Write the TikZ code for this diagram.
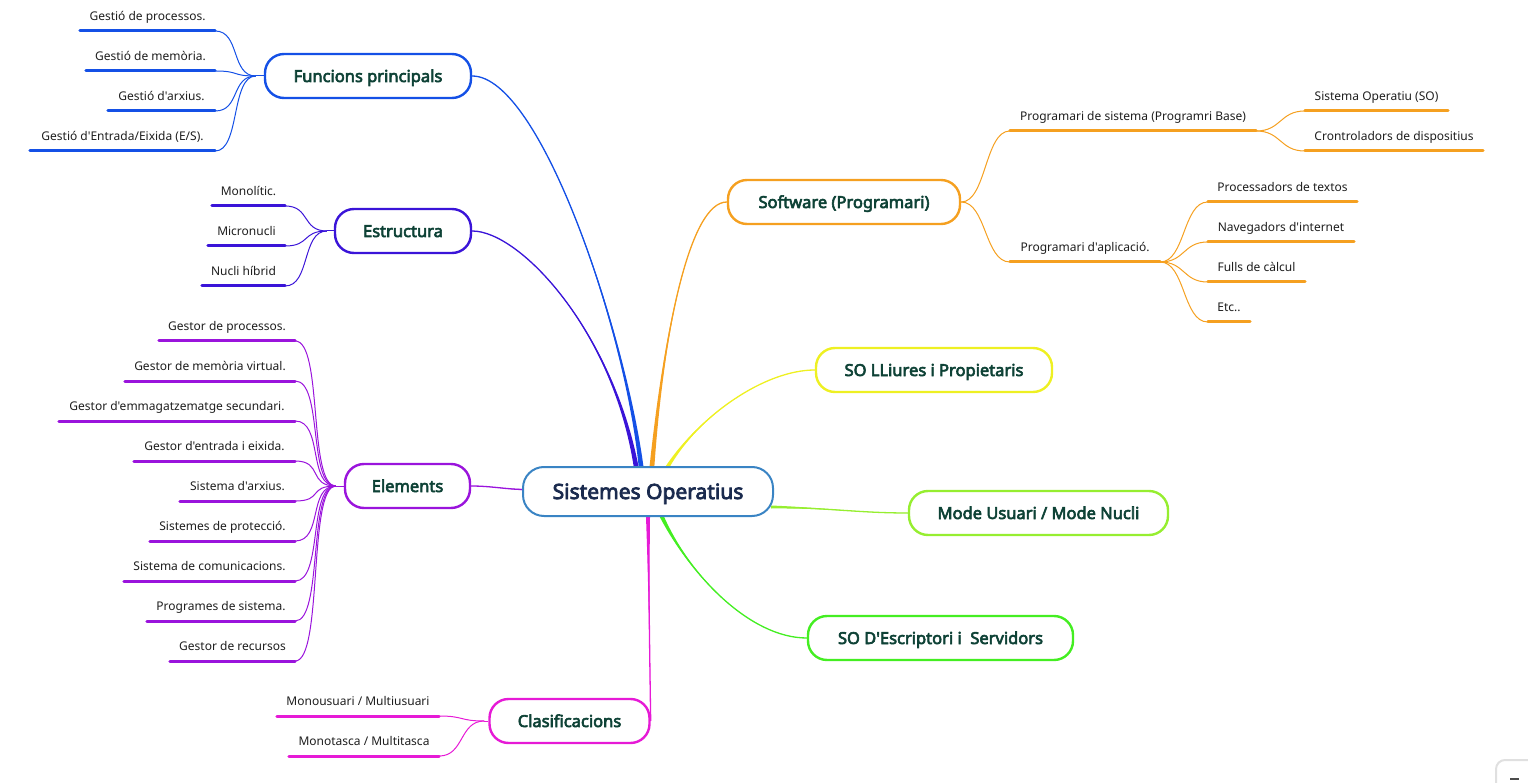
\documentclass[tikz,border=0pt]{standalone}
\usepackage{fontspec}
\setmainfont{Noto Sans}[Ligatures=TeXOff, AutoFakeBold=3.6]
\usetikzlibrary{calc}
\definecolor{cBlue}{HTML}{1450E6}
\definecolor{cInd}{HTML}{3A14D8}
\definecolor{cPur}{HTML}{9A14DC}
\definecolor{cMag}{HTML}{E61AD6}
\definecolor{cOra}{HTML}{F5A020}
\definecolor{cYel}{HTML}{EEF022}
\definecolor{cLim}{HTML}{96EE30}
\definecolor{cGrn}{HTML}{44EE22}
\definecolor{cCen}{HTML}{3A84C4}
\definecolor{cCenT}{HTML}{1A2A4E}
\definecolor{cTopT}{HTML}{0E4236}
\definecolor{cSubT}{HTML}{1E1E1E}
\pgfdeclarelayer{bg}
\pgfsetlayers{bg,main}
\newcommand\tapr[6]{%
  \fill[#1] ($#2+#6$) .. controls #3 and #4 .. #5 .. controls #4 and #3 .. ($#2-#6$) -- cycle;
  \draw[#1,line width=1.3pt] #2 .. controls #3 and #4 .. #5;}
\newcommand\subn[6]{%
  \node[sub, minimum width=#4pt] (#1) at (#2,#3) {#6};
  \draw[ul=#5] (#1.south west) -- (#1.south east);}
\begin{document}
\begin{tikzpicture}[x=1pt,y=-1pt,
  topic/.style={draw=#1, line width=2.4pt, rounded corners=19pt, fill=white,
    minimum height=44pt, inner sep=0pt, text height=12pt, text depth=0pt,
    font=\fontsize{16.5}{19}\selectfont\bfseries, text=cTopT},
  central/.style={draw=cCen, line width=2pt, rounded corners=21pt, fill=white,
    minimum height=49pt, minimum width=250pt, inner sep=0pt,
    text height=15pt, text depth=0pt,
    font=\fontsize{21}{24}\selectfont\bfseries, text=cCenT},
  sub/.style={anchor=south, inner sep=0pt, text height=9pt, text depth=10pt,
    font=\fontsize{12}{14}\selectfont, text=cSubT},
  ul/.style={draw=#1, line width=3pt, line cap=round},
  twig/.style={draw=#1, line width=1pt},
  bz/.style={to path={.. controls +(#1,0) and +(-#1,0) .. (\tikztotarget)}},
]
\useasboundingbox (0,0) rectangle (1528,783);

% central and main topics
\node[central] (so) at (648,491.5) {Sistemes Operatius};
\node[topic=cBlue, minimum width=206pt] (fp) at (368,76) {Funcions principals};
\node[topic=cInd, minimum width=136pt] (es) at (403,231) {Estructura};
\node[topic=cPur, minimum width=125pt] (el) at (407.5,486) {Elements};
\node[topic=cMag, minimum width=160pt] (cl) at (569.5,721) {Clasificacions};
\node[topic=cOra, minimum width=232pt] (sw) at (844,202) {Software (Programari)};
\node[topic=cYel, minimum width=236pt] (ll) at (934,370) {SO LLiures i Propietaris};
\node[topic=cLim, minimum width=259pt] (mu) at (1038.5,513) {Mode Usuari / Mode Nucli};
\node[topic=cGrn, minimum width=265pt] (de) at (940.5,638) {SO D'Escriptori i\ \ Servidors};

% Funcions principals
\subn{f1}{147.5}{31}{135}{cBlue}{Gestió de processos.}
\subn{f2}{150.5}{71}{129}{cBlue}{Gestió de memòria.}
\subn{f3}{161.5}{111}{107}{cBlue}{Gestió d'arxius.}
\subn{f4}{122.5}{151}{185}{cBlue}{Gestió d'Entrada/Eixida (E/S).}
% Estructura
\subn{e1}{248.5}{206}{73}{cInd}{Monolític.}
\subn{e2}{246.5}{246}{77}{cInd}{Micronucli}
\subn{e3}{243.5}{286}{83}{cInd}{Nucli híbrid}
% Elements
\subn{m1}{227}{341}{136}{cPur}{Gestor de processos.}
\subn{m2}{210}{381}{170}{cPur}{Gestor de memòria virtual.}
\subn{m3}{177}{421}{236}{cPur}{Gestor d'emmagatzematge secundari.}
\subn{m4}{214.5}{461}{161}{cPur}{Gestor d'entrada i eixida.}
\subn{m5}{237.5}{501}{115}{cPur}{Sistema d'arxius.}
\subn{m6}{222.5}{541}{145}{cPur}{Sistemes de protecció.}
\subn{m7}{209.5}{581}{171}{cPur}{Sistema de comunicacions.}
\subn{m8}{221}{621}{148}{cPur}{Programes de sistema.}
\subn{m9}{232.5}{661}{125}{cPur}{Gestor de recursos}
% Clasificacions
\subn{c1}{358}{716}{162}{cMag}{Monousuari / Multiusuari}
\subn{c2}{364}{756}{150}{cMag}{Monotasca / Multitasca}
% Software
\subn{ps}{1133}{131}{246}{cOra}{Programari de sistema (Programri Base)}
\subn{pa}{1085}{262}{150}{cOra}{Programari d'aplicació.}
\subn{sop}{1376.5}{111}{143}{cOra}{Sistema Operatiu (SO)}
\subn{cd}{1394}{151}{178}{cOra}{Crontroladors de dispositius}
\subn{pt}{1282.5}{202}{149}{cOra}{Processadors de textos}
\subn{ni}{1281}{242}{146}{cOra}{Navegadors d'internet}
\subn{fc}{1256.5}{282}{97}{cOra}{Fulls de càlcul}
\subn{etc}{1229}{322}{42}{cOra}{Etc..}

\begin{pgfonlayer}{bg}
  % junction points
  \coordinate (fj) at ($(fp.west)+(-8,0)$);
  \coordinate (ej) at ($(es.west)+(-7,0)$);
  \coordinate (mj) at ($(el.west)+(-8,0)$);
  \coordinate (cj) at ($(cl.west)+(-4,0)$);
  \foreach \n in {f1,f2,f3,f4} \draw[twig=cBlue] (\n.south east) to[bz=25] (fj);
  \draw[twig=cBlue] (fj) -- (fp.west);
  \foreach \n in {e1,e2,e3} \draw[twig=cInd] (\n.south east) to[bz=25] (ej);
  \draw[twig=cInd] (ej) -- (es.west);
  \foreach \n in {m1,m2,m3,m4,m5,m6,m7,m8,m9} \draw[twig=cPur] (\n.south east) to[bz=28] (mj);
  \draw[twig=cPur] (mj) -- (el.west);
  \foreach \n in {c1,c2} \draw[twig=cMag] (\n.south east) to[bz=25] (cj);
  \draw[twig=cMag] (cj) -- (cl.west);
  % software branches
  \foreach \n in {ps,pa} \draw[twig=cOra] (sw.east) to[bz=25] (\n.south west);
  \foreach \n in {sop,cd} \draw[twig=cOra] (ps.south east) to[bz=25] (\n.south west);
  \foreach \n in {pt,ni,fc,etc} \draw[twig=cOra] (pa.south east) to[bz=25] (\n.south west);
  % central connectors
  \coordinate (sF) at ($(so.north)+(-7,0)$);
  \coordinate (sE) at ($(so.north)+(-12,0)$);
  \coordinate (sS) at ($(so.north)+(4,0)$);
  \coordinate (sL) at ($(so.north)+(20,0)$);
  \coordinate (sM) at ($(so.east)+(-3,15.5)$);
  \coordinate (sD) at ($(so.south)+(14,0)$);
  \coordinate (sC) at ($(so.south)+(0,0)$);
  \coordinate (sEl) at ($(so.west)+(0,-2)$);
  \tapr{cBlue}{(sF)}{(625,330)}{(540,76)}{(fp.east)}{(2.4,0)}
  \tapr{cInd}{(sE)}{(612,330)}{(520,231)}{(es.east)}{(2.4,0)}
  \tapr{cOra}{(sS)}{(664,330)}{(690,202)}{(sw.west)}{(2.4,0)}
  \tapr{cYel}{(sL)}{(700,415)}{(765,370)}{(ll.west)}{(2.2,0)}
  \tapr{cLim}{(sM)}{(830,508)}{(860,513)}{(mu.west)}{(0,1.5)}
  \tapr{cGrn}{(sD)}{(690,575)}{(750,638)}{(de.west)}{(2.2,0)}
  \tapr{cMag}{(sC)}{(649,600)}{(650,680)}{(cl.east)}{(2,0)}
  \tapr{cPur}{(sEl)}{(505,489)}{(490,486)}{(el.east)}{(0,0.6)}
\end{pgfonlayer}

% corner widget
\draw[black!12, line width=2pt, rounded corners=9pt] (1496,783) -- (1496,760) -- (1528,760);
\draw[black!70, line width=1.5pt] (1510,779) -- (1519,779);
\end{tikzpicture}
\end{document}
